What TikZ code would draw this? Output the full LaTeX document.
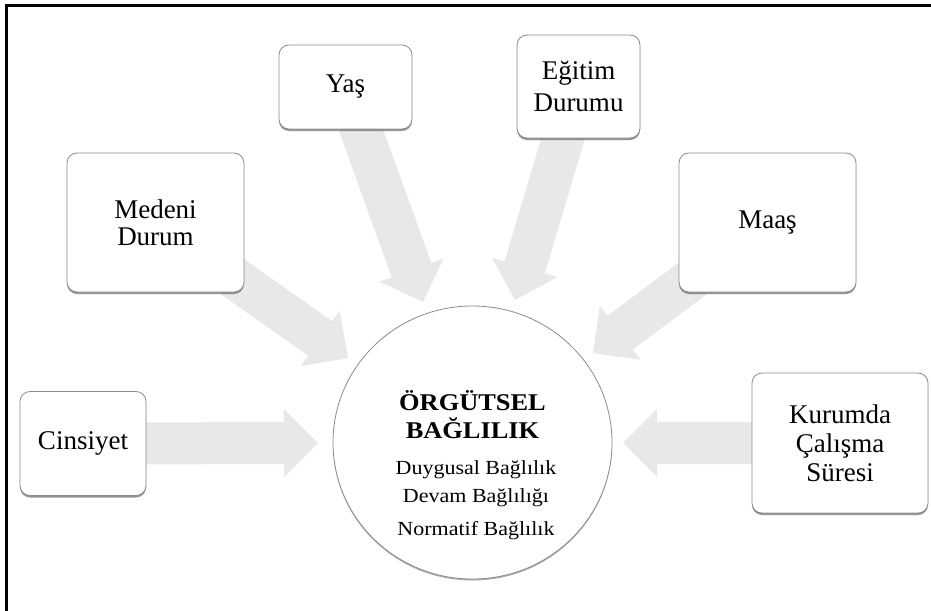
\documentclass[tikz,border=0pt]{standalone}
\usepackage{fontspec}
\setmainfont{Liberation Serif}
\newfontfamily\circfont[FakeStretch=1.1]{Liberation Serif}
\usetikzlibrary{calc,shapes.geometric,shadows,backgrounds}

\tikzset{
  box/.style={draw=black!45, line width=0.8pt, fill=white, rounded corners=10pt,
    inner sep=0pt, align=center, font=\fontsize{27}{29}\selectfont,
    drop shadow={shadow xshift=0pt, shadow yshift=-2pt, fill=black!60, opacity=0.7}},
  hub/.style={ellipse, draw=black!45, line width=0.8pt, fill=white,
    minimum width=279pt, minimum height=273pt, inner sep=0pt,
    drop shadow={shadow xshift=0pt, shadow yshift=-1.5pt, fill=black!55, opacity=0.6}},
  arrowfill/.style={fill=black!9},
  frameline/.style={line width=3pt, line cap=rect},
  ctitle/.style={font=\circfont\bfseries\fontsize{24}{24}\selectfont, anchor=base, inner sep=0pt},
  csub/.style={font=\circfont\fontsize{20}{20}\selectfont, anchor=base, inner sep=0pt}
}

% fat arrow: #1 name prefix, #2 start, #3 tip
\newcommand{\fatarrow}[3]{%
  \coordinate (#1h) at ($(#3)!34pt!(#2)$);
  \fill[arrowfill] ($(#2)!21pt!90:(#3)$) -- ($(#1h)!21pt!90:(#3)$)
    -- ($(#1h)!34pt!90:(#3)$) -- (#3) -- ($(#1h)!34pt!-90:(#3)$)
    -- ($(#1h)!21pt!-90:(#3)$) -- ($(#2)!21pt!-90:(#3)$) -- cycle;}

\begin{document}
\begin{tikzpicture}[x=1pt,y=-1pt]
  \useasboundingbox (0,0) rectangle (931,610);

  % frame
  \coordinate (fbl) at (6,610);
  \coordinate (ftl) at (6,5.5);
  \coordinate (ftr) at (931,5.5);
  \draw[frameline] (fbl) -- (ftl) -- (ftr);

  % boxes
  \node[box, minimum width=126pt, minimum height=104pt] (cins) at (83,443.5) {Cinsiyet};
  \node[box, minimum width=177pt, minimum height=139pt, font=\fontsize{27}{27}\selectfont] (med) at (155.5,222.5) {Medeni\\Durum};
  \node[box, minimum width=133pt, minimum height=84pt] (yas) at (345.5,87) {Yaş};
  \node[box, minimum width=123pt, minimum height=103pt, font=\fontsize{27}{32}\selectfont] (egt) at (578.5,86.5) {Eğitim\\Durumu};
  \node[box, minimum width=177pt, minimum height=139pt] (maas) at (767.5,222.5) {Maaş};
  \node[box, minimum width=176pt, minimum height=140pt] (kur) at (840,443) {Kurumda\\Çalışma\\Süresi};

  % hub
  \node[hub] (hub) at (472.5,442.5) {};
  \node[ctitle] (t1) at (472.5,410) {ÖRGÜTSEL};
  \node[ctitle] (t2) at (472.5,438) {BAĞLILIK};
  \node[csub] (t3) at (476,474) {Duygusal Bağlılık};
  \node[csub] (t4) at (476,502) {Devam Bağlılığı};
  \node[csub] (t5) at (476,535) {Normatif Bağlılık};

  % arrow tips
  \coordinate (tcins) at (318,443);
  \coordinate (tkur) at (623,443);
  \coordinate (tyas) at (423,302);
  \coordinate (tegt) at (515,300);
  \coordinate (tmed) at (348,358);
  \coordinate (tmaas) at (593,353);

  \begin{pgfonlayer}{background}
    \fill[white] (0,0) rectangle (931,610);
    \fatarrow{a1}{cins.center}{tcins}
    \fatarrow{a2}{kur.center}{tkur}
    \fatarrow{a3}{yas.center}{tyas}
    \fatarrow{a4}{egt.center}{tegt}
    \fatarrow{a5}{med.center}{tmed}
    \fatarrow{a6}{maas.center}{tmaas}
  \end{pgfonlayer}
\end{tikzpicture}
\end{document}
